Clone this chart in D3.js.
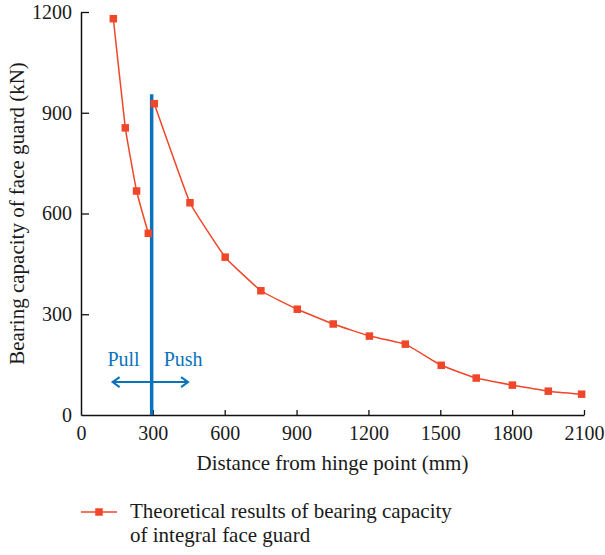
<!DOCTYPE html>
<html>
<head>
<meta charset="utf-8">
<script src="https://cdn.jsdelivr.net/npm/d3@7"></script>
<style>
  html, body { margin: 0; padding: 0; background: #fff; }
  svg { display: block; }
  text { font-family: "Liberation Serif", "DejaVu Serif", serif; fill: #1a1a1a; }
</style>
</head>
<body>
<svg id="chart" width="605" height="555"></svg>
<script>
// Bearing capacity measured on each side of the hinge boundary (pull side / push side)
const pullDistance = [135, 185, 232, 281];
const pullCapacity = [1180, 855, 667, 541];
const pushDistance = [306, 455, 602, 751, 903, 1053, 1204, 1354, 1504, 1650, 1801, 1951, 2090];
const pushCapacity = [927, 632, 470, 370, 315, 271, 235, 211, 148, 110, 89, 71, 62];

const xTicks = [0, 300, 600, 900, 1200, 1500, 1800, 2100];
const yTicks = [0, 300, 600, 900, 1200];

const boundaryX = 295;      // pull / push boundary position (mm)
const boundaryTop = 955;    // upper end of the boundary line (kN)
const arrowFrom = 132, arrowTo = 447, arrowLevel = 98;

const seriesColor = "#f0462a";
const boundaryColor = "#0a73bb";
const serif = "'Liberation Serif', 'DejaVu Serif', serif";

const svg = d3.select("#chart");
const margin = { left: 81, right: 21, top: 12, bottom: 140 };
const W = 605, H = 555;

const x = d3.scaleLinear().domain([0, 2100]).range([margin.left, W - margin.right]);
const y = d3.scaleLinear().domain([0, 1200]).range([H - margin.bottom, margin.top]);

// Axes with inward ticks
const fmt = d3.format("d");
const xAxis = svg.append("g")
  .attr("transform", `translate(0,${y(0)})`)
  .call(d3.axisBottom(x).tickValues(xTicks).tickFormat(fmt).tickSizeInner(-5).tickSizeOuter(0).tickPadding(11));
const yAxis = svg.append("g")
  .attr("transform", `translate(${x(0)},0)`)
  .call(d3.axisLeft(y).tickValues(yTicks).tickFormat(fmt).tickSizeInner(-8).tickSizeOuter(0).tickPadding(9));

[xAxis, yAxis].forEach(g => {
  g.attr("font-family", serif);
  g.select(".domain").attr("stroke", "#111").attr("stroke-width", 1.5);
  g.selectAll(".tick line").attr("stroke", "#111").attr("stroke-width", 1.3);
  g.selectAll(".tick text").attr("font-size", 20).attr("fill", "#1a1a1a");
});
xAxis.selectAll(".tick").filter(d => d === 0).select("line").remove();
yAxis.selectAll(".tick").filter(d => d === 0).select("line").remove();
xAxis.selectAll(".tick text").attr("dy", "0.71em");

// Axis titles
svg.append("text")
  .attr("x", (x(0) + x(2100)) / 2).attr("y", 470)
  .attr("text-anchor", "middle").attr("font-size", 21)
  .text("Distance from hinge point (mm)");
svg.append("text")
  .attr("transform", `translate(24,${(y(0) + y(1200)) / 2}) rotate(-90)`)
  .attr("text-anchor", "middle").attr("font-size", 21)
  .text("Bearing capacity of face guard (kN)");

// Boundary line and direction arrows
svg.append("line")
  .attr("x1", x(boundaryX)).attr("x2", x(boundaryX))
  .attr("y1", y(boundaryTop)).attr("y2", y(0))
  .attr("stroke", boundaryColor).attr("stroke-width", 3.5);

const ay = y(arrowLevel);
svg.append("line")
  .attr("x1", x(arrowFrom)).attr("x2", x(arrowTo))
  .attr("y1", ay).attr("y2", ay)
  .attr("stroke", boundaryColor).attr("stroke-width", 2);
[[x(arrowFrom), 1], [x(arrowTo), -1]].forEach(([px, dir]) => {
  svg.append("path")
    .attr("d", `M${px + dir * 7},${ay - 5} L${px},${ay} L${px + dir * 7},${ay + 5}`)
    .attr("fill", "none").attr("stroke", boundaryColor).attr("stroke-width", 2);
});
svg.append("text")
  .attr("x", x(boundaryX) - 12).attr("y", 366)
  .attr("text-anchor", "end").attr("font-size", 20).style("fill", boundaryColor)
  .text("Pull");
svg.append("text")
  .attr("x", x(boundaryX) + 12).attr("y", 366)
  .attr("text-anchor", "start").attr("font-size", 20).style("fill", boundaryColor)
  .text("Push");

// Series: two gently smoothed segments with square markers
const line = d3.line().x(d => x(d[0])).y(d => y(d[1])).curve(d3.curveCardinal.tension(0.7));
const segments = [
  d3.zip(pullDistance, pullCapacity),
  d3.zip(pushDistance, pushCapacity)
];
segments.forEach(seg => {
  svg.append("path").datum(seg)
    .attr("d", line).attr("fill", "none")
    .attr("stroke", seriesColor).attr("stroke-width", 1.5);
  svg.selectAll(null).data(seg).enter().append("rect")
    .attr("x", d => x(d[0]) - 3.75).attr("y", d => y(d[1]) - 3.75)
    .attr("width", 7.5).attr("height", 7.5)
    .attr("fill", seriesColor);
});

// Legend
const ly = 512;
svg.append("line").attr("x1", 81).attr("x2", 117).attr("y1", ly).attr("y2", ly)
  .attr("stroke", seriesColor).attr("stroke-width", 1.5);
svg.append("rect").attr("x", 99 - 3.75).attr("y", ly - 3.75).attr("width", 7.5).attr("height", 7.5)
  .attr("fill", seriesColor);
const legendText = svg.append("text").attr("x", 130).attr("y", 518).attr("font-size", 21);
legendText.append("tspan").attr("x", 130).text("Theoretical results of bearing capacity");
legendText.append("tspan").attr("x", 130).attr("dy", 24).text("of integral face guard");
</script>
</body>
</html>
